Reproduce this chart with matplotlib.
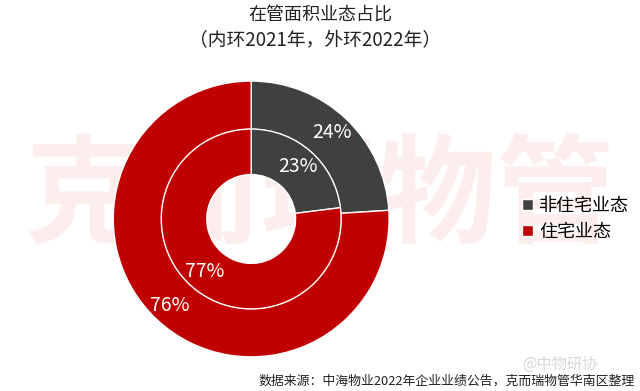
import matplotlib.pyplot as plt

plt.rcParams['font.family'] = ['Noto Sans CJK SC', 'DejaVu Sans']

categories = ['非住宅业态', '住宅业态']
inner_2021 = [23, 77]
outer_2022 = [24, 76]
colors = ['#404040', '#c00000']

fig = plt.figure(figsize=(6.4, 3.91), dpi=100)

# watermark behind everything
fig.text(0.5, 0.49, '克而瑞物管', fontsize=85, color='#fdeeee',
         ha='center', va='center', fontweight='bold', zorder=0)

ax = fig.add_axes([0.177, 0.087, 0.431, 0.706])
ax.set_zorder(1)
ax.patch.set_alpha(0)

w1, t1, a1 = ax.pie(outer_2022, radius=1.0, colors=colors, startangle=90,
                    counterclock=False, autopct='%d%%', pctdistance=0.86,
                    wedgeprops=dict(width=0.35, edgecolor='white', linewidth=1))
w2, t2, a2 = ax.pie(inner_2021, radius=0.652, colors=colors, startangle=90,
                    counterclock=False, autopct='%d%%', pctdistance=0.78,
                    wedgeprops=dict(width=0.33, edgecolor='white', linewidth=1))
for t in a1 + a2:
    t.set_color('white')
    t.set_fontsize(14)
    t.set_fontweight('medium')
ax.set_xlim(-1, 1)
ax.set_ylim(-1, 1)
ax.set_aspect('equal')

fig.text(0.5, 0.963, '在管面积业态占比', ha='center', va='center',
         fontsize=13, color='#222222', fontweight='medium')
fig.text(0.493, 0.895, '（内环2021年，外环2022年）', ha='center', va='center',
         fontsize=13.5, color='#222222', fontweight='medium')

fig.legend(w1, categories, loc='center left', bbox_to_anchor=(0.79, 0.44),
           frameon=False, handlelength=0.6, handleheight=0.6,
           handletextpad=0.35, labelspacing=0.45,
           prop=dict(size=13, weight='medium'))

fig.text(0.992, 0.025, '数据来源：中海物业2022年企业业绩公告，克而瑞物管华南区整理',
         ha='right', va='center', fontsize=9.3, color='#222222', fontweight='medium')
fig.text(0.875, 0.068, '@中物研协', ha='center', va='center', fontsize=11,
         color='#d8d8d8')

fig.savefig('out.png', dpi=100)
